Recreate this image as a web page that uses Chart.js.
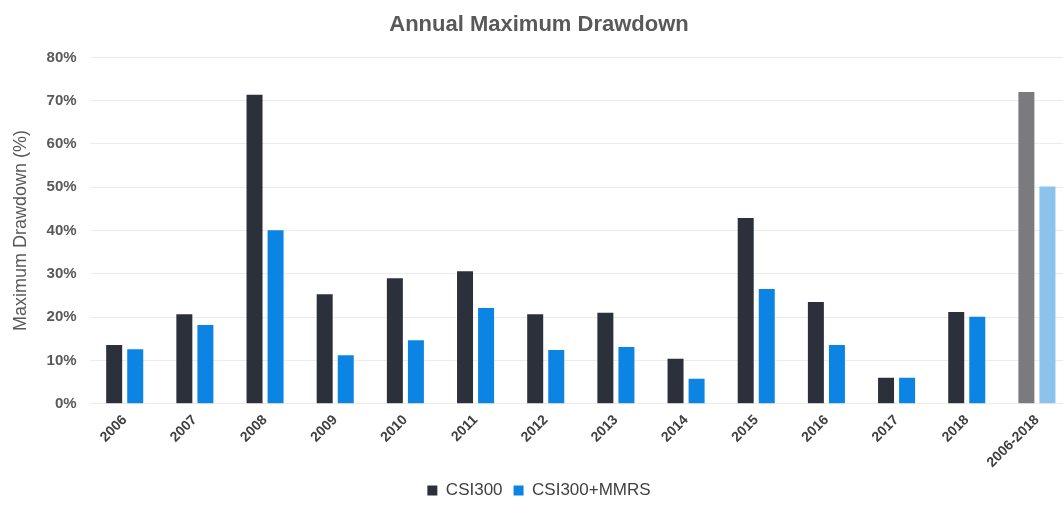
<!DOCTYPE html>
<html>
<head>
<meta charset="utf-8">
<script src="https://cdn.jsdelivr.net/npm/chart.js@4/dist/chart.umd.min.js"></script>
<style>
  html, body { margin: 0; padding: 0; background: #fff; overflow: hidden; }
  #wrap { position: relative; width: 1072px; height: 509px; }
</style>
</head>
<body>
<div id="wrap"><canvas id="dd"></canvas></div>
<script>
// Annual maximum drawdown, CSI300 vs CSI300+MMRS (values in %)
const years = ['2006', '2007', '2008', '2009', '2010', '2011', '2012', '2013', '2014', '2015', '2016', '2017', '2018', '2006-2018'];
const csi300 = [13.6, 20.7, 71.4, 25.3, 29.0, 30.6, 20.7, 21.0, 10.4, 42.9, 23.5, 6.0, 21.2, 72.0];
const csi300Mmrs = [12.6, 18.2, 40.1, 11.2, 14.7, 22.1, 12.4, 13.1, 5.8, 26.5, 13.6, 6.0, 20.1, 50.2];
const yTicks = [0, 10, 20, 30, 40, 50, 60, 70, 80];

const COL = {
  csi: '#2c303b', csiAll: '#7b7b7d',
  mmrs: '#0b84e3', mmrsAll: '#8cc3ec',
  grid: '#ececec', text: '#595959', label: '#404040',
};
const FONT = "'Liberation Sans', Arial, sans-serif";
Chart.defaults.font.family = FONT;

// whole-period bar is drawn faded
const shade = (base, faded) => years.map((y, i) => i === years.length - 1 ? faded : base);

new Chart(document.getElementById('dd'), {
  type: 'bar',
  data: {
    labels: years,
    datasets: [
      { label: 'CSI300', data: csi300, backgroundColor: shade(COL.csi, COL.csiAll),
        categoryPercentage: 0.6, barPercentage: 0.76 },
      { label: 'CSI300+MMRS', data: csi300Mmrs, backgroundColor: shade(COL.mmrs, COL.mmrsAll),
        categoryPercentage: 0.6, barPercentage: 0.76 },
    ],
  },
  options: {
    responsive: true, maintainAspectRatio: false, animation: false,
    layout: { padding: { left: 6, right: 0, top: 2, bottom: 0 } },
    plugins: {
      title: {
        display: true, text: 'Annual Maximum Drawdown', color: COL.text,
        font: { size: 22, weight: 'bold' }, padding: { top: 10, bottom: 19 },
      },
      legend: {
        position: 'bottom',
        labels: {
          color: COL.label, font: { size: 17 }, boxWidth: 10, boxHeight: 10,
          usePointStyle: true, pointStyle: 'rect', padding: 11,
        },
      },
      tooltip: { enabled: false },
    },
    scales: {
      x: {
        grid: { display: false },
        border: { display: false },
        ticks: { color: COL.label, font: { size: 14, weight: 'bold' }, maxRotation: 45, minRotation: 45, padding: 0, autoSkip: false },
      },
      y: {
        min: 0, max: 80,
        afterBuildTicks: axis => { axis.ticks = yTicks.map(v => ({ value: v })); },
        grid: { color: COL.grid, drawTicks: false },
        border: { display: false },
        title: { display: true, text: 'Maximum Drawdown (%)', color: COL.text, font: { size: 18 }, padding: { bottom: 2 } },
        ticks: { color: COL.text, font: { size: 15, weight: 'bold' }, padding: 13, callback: v => v + '%' },
      },
    },
  },
});
</script>
</body>
</html>
